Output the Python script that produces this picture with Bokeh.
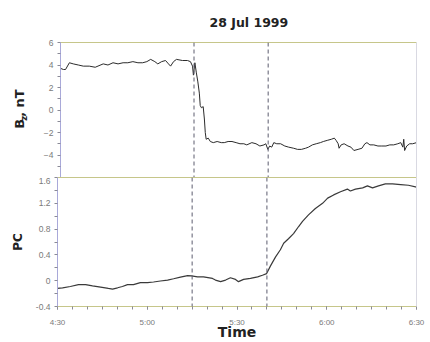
import numpy as np
from bokeh.plotting import figure
from bokeh.layouts import column, row
from bokeh.models import Range1d, LinearAxis, FixedTicker, Span, Title
from bokeh.core.properties import value
from bokeh.embed import file_html
from bokeh.resources import INLINE

# ---- data (time in minutes after 00:00 UT) ----
bz_time = [270.0, 271.0, 271.7, 273.0, 274.3, 276.0, 277.7, 279.7, 281.7, 284.4, 286.0, 287.7,
           289.4, 291.1, 292.7, 294.4, 296.1, 297.7, 299.1, 300.4, 301.8, 302.8, 304.1, 305.4,
           306.4, 307.1, 308.1, 309.1, 311.1, 312.8, 313.8, 314.5, 314.8, 315.3, 315.8, 316.3,
           316.8, 317.1, 317.5, 318.1, 318.5, 318.8, 319.1, 319.8, 320.5, 321.5, 322.8, 324.2,
           325.2, 326.5, 327.8, 329.2, 330.5, 331.8, 332.8, 334.5, 335.9, 337.2, 338.6, 339.2,
           339.9, 340.5, 341.2, 341.9, 342.9, 344.2, 345.6, 346.9, 348.6, 349.9, 351.2, 352.6,
           353.6, 354.9, 356.2, 357.6, 358.6, 359.9, 361.3, 362.3, 362.9, 363.6, 363.9, 364.6,
           365.6, 366.9, 367.9, 368.9, 370.3, 371.6, 372.6, 373.3, 374.3, 375.6, 377.0, 378.3,
           379.7, 381.0, 382.3, 383.7, 384.7, 385.4, 385.7, 386.0, 386.7, 387.7, 388.7, 390.0]
bz_value = [3.7, 3.6, 3.6, 4.2, 4.1, 4.0, 3.9, 3.9, 3.8, 4.1, 4.0, 4.2,
            4.1, 4.2, 4.2, 4.3, 4.2, 4.2, 4.3, 4.5, 4.3, 4.1, 4.3, 4.4,
            4.1, 3.9, 4.3, 4.5, 4.4, 4.4, 4.3, 3.9, 3.1, 4.2, 3.3, 2.5,
            1.5, 0.4, 0.2, 0.3, -0.8, -2.0, -2.6, -2.5, -2.8, -2.9, -2.8, -2.9,
            -2.9, -2.8, -2.8, -2.9, -3.0, -3.0, -3.1, -2.9, -3.0, -3.2, -3.1, -3.0,
            -3.5, -3.2, -3.3, -2.9, -3.0, -3.0, -3.2, -3.3, -3.4, -3.5, -3.5, -3.4,
            -3.3, -3.1, -3.0, -2.9, -2.8, -2.7, -2.6, -2.5, -2.7, -3.0, -3.4, -3.1,
            -3.0, -3.2, -3.3, -3.6, -3.5, -3.4, -3.0, -2.9, -3.1, -3.1, -3.2, -3.2,
            -3.2, -3.1, -3.1, -3.0, -2.9, -3.3, -2.6, -3.6, -3.2, -3.0, -3.0, -2.9]

pc_time = [270.0, 271.7, 274.3, 277.0, 279.4, 281.7, 284.4, 287.0, 288.4, 290.1, 291.7, 293.4,
           295.4, 297.7, 300.1, 302.1, 304.4, 306.8, 308.8, 311.1, 313.5, 314.8, 316.8, 318.8,
           321.8, 322.8, 324.5, 326.2, 327.8, 329.5, 330.5, 332.2, 334.5, 336.9, 338.5, 339.9,
           341.2, 342.9, 344.5, 345.6, 347.2, 348.9, 350.6, 351.9, 353.9, 356.2, 358.6, 360.3,
           362.3, 364.6, 366.9, 367.9, 369.6, 372.0, 373.6, 375.3, 377.3, 379.6, 382.0, 384.7,
           387.3, 390.0]
pc_value = [-0.12, -0.11, -0.09, -0.06, -0.06, -0.08, -0.10, -0.12, -0.13, -0.11, -0.09, -0.06,
            -0.06, -0.03, -0.03, -0.02, -0.005, 0.01, 0.03, 0.055, 0.08, 0.075, 0.06, 0.06,
            0.035, 0.01, -0.015, 0.01, 0.045, 0.02, -0.015, 0.02, 0.035, 0.06, 0.085, 0.11,
            0.23, 0.37, 0.48, 0.58, 0.65, 0.73, 0.84, 0.92, 1.02, 1.12, 1.20, 1.28,
            1.33, 1.38, 1.42, 1.39, 1.42, 1.44, 1.47, 1.44, 1.47, 1.50, 1.50, 1.49,
            1.48, 1.45]

x_ticks = [270, 300, 330, 360, 390]
x_tick_labels = ["4:30", "5:00", "5:30", "6:00", "6:30"]
bz_ticks = [-4, -2, 0, 2, 4, 6]
pc_ticks = [-0.4, 0, 0.4, 0.8, 1.2, 1.6]
pc_tick_labels = ["-0.4", "0", "0.4", "0.8", "1.2", "1.6"]
event_times = [315, 340]
title_text = "28 Jul 1999"

# ---- styles ----
FONT = "Liberation Sans"
BOLD_FONT = "DejaVu Sans"
AX_BLUE = "#a9a9d9"
OLIVE = "#c6c68a"
RIGHT_GRAY = "#d9d9e2"
TICK_COLOR = "#8a8a96"
LABEL_GRAY = "#7a7a7a"
TEXT = "#222222"
LAB_W = 40


def make_fig(width, height, left, top, bottom, yr):
    p = figure(width=width, height=height, x_range=Range1d(270, 390), y_range=Range1d(*yr),
               x_axis_location=None, y_axis_location=None, toolbar_location=None,
               title_location=None, output_backend="svg", min_border_left=left,
               min_border_right=14, min_border_top=top, min_border_bottom=bottom)
    p.outline_line_color = None
    p.grid.visible = False
    p.background_fill_color = "white"
    p.border_fill_color = "white"
    return p


def empty_axis(color):
    ax = LinearAxis(ticker=FixedTicker(ticks=[]))
    ax.axis_line_color = color
    ax.major_tick_out = 0
    ax.major_tick_in = 0
    ax.minor_tick_out = 0
    ax.minor_tick_in = 0
    ax.major_label_standoff = 0
    ax.major_label_text_font_size = "0px"
    return ax


def tick_axis(ticks, minor, overrides, color, standoff, size="8.5px"):
    ax = LinearAxis(ticker=FixedTicker(ticks=ticks, minor_ticks=minor))
    ax.axis_line_color = color
    ax.major_tick_line_color = TICK_COLOR
    ax.minor_tick_line_color = TICK_COLOR
    ax.major_tick_in = 0
    ax.major_tick_out = 3
    ax.minor_tick_in = 0
    ax.minor_tick_out = 3
    ax.major_label_standoff = standoff
    ax.major_label_text_font = FONT
    ax.major_label_text_font_size = size
    ax.major_label_text_color = LABEL_GRAY
    if overrides:
        ax.major_label_overrides = overrides
    ax.axis_label_text_font = BOLD_FONT
    ax.axis_label_text_font_style = "bold"
    ax.axis_label_text_color = TEXT
    return ax


# ---- label strip left of the top panel (B_z, nT) ----
lab = figure(width=LAB_W, height=177, x_range=Range1d(0, LAB_W), y_range=Range1d(0, 177),
             x_axis_location=None, y_axis_location=None, toolbar_location=None,
             title_location=None, output_backend="svg", min_border=0)
lab.outline_line_color = None
lab.grid.visible = False
lab.text(x=[19], y=[64], text=["B"], angle=np.pi / 2, text_font=value(BOLD_FONT),
         text_font_style="bold", text_font_size="13px", text_color=TEXT,
         text_align="left", text_baseline="middle")
lab.text(x=[23], y=[74], text=["z"], angle=np.pi / 2, text_font=value(BOLD_FONT),
         text_font_style="bold", text_font_size="9px", text_color=TEXT,
         text_align="left", text_baseline="middle")
lab.text(x=[19], y=[79.5], text=[", nT"], angle=np.pi / 2, text_font=value(BOLD_FONT),
         text_font_style="bold", text_font_size="13px", text_color=TEXT,
         text_align="left", text_baseline="middle")

# ---- top panel: Bz ----
p1 = make_fig(430 - LAB_W, 177, 57 - LAB_W, 42, 0, (-6, 6))
p1.add_layout(tick_axis(bz_ticks, [v for v in range(-6, 7) if v % 2 != 0], None, AX_BLUE, 4), "left")
p1.add_layout(empty_axis(OLIVE), "above")
p1.add_layout(Title(text=title_text, align="left", offset=149, standoff=25,
                    text_font=BOLD_FONT, text_font_style="bold", text_font_size="12.5px",
                    text_color=TEXT), "above")
p1.add_layout(empty_axis(RIGHT_GRAY), "right")
p1.line(bz_time, bz_value, line_color="#2b2b2b", line_width=1)

# ---- bottom panel: PC ----
p2 = make_fig(430, 165, 57, 0, 30, (-0.4, 1.6))
pc_minor = [round(v, 1) for v in np.arange(-0.2, 1.6, 0.4)]
ax_pc = tick_axis(pc_ticks, pc_minor, dict(zip(pc_ticks, pc_tick_labels)), AX_BLUE, 4)
ax_pc.axis_label = "PC"
ax_pc.axis_label_text_font_size = "12px"
ax_pc.axis_label_standoff = 8
p2.add_layout(ax_pc, "left")
ax_t = tick_axis(x_ticks, list(range(270, 391, 5)), dict(zip(x_ticks, x_tick_labels)), OLIVE, 8,
                 size="8px")
ax_t.axis_label = "Time"
ax_t.axis_label_text_font_size = "14px"
ax_t.axis_label_standoff = -6
p2.add_layout(ax_t, "below")
p2.add_layout(empty_axis(OLIVE), "above")
p2.add_layout(empty_axis(RIGHT_GRAY), "right")
p2.line(pc_time, pc_value, line_color="#3a3a3a", line_width=1.2)

for p in (p1, p2):
    for t in event_times:
        p.add_layout(Span(location=t, dimension="height", line_color="#5c5c6e",
                          line_dash="4 3", line_width=1))

layout = column(row(lab, p1, spacing=0), p2, spacing=0)
open("out.html", "w").write(file_html(layout, INLINE))
